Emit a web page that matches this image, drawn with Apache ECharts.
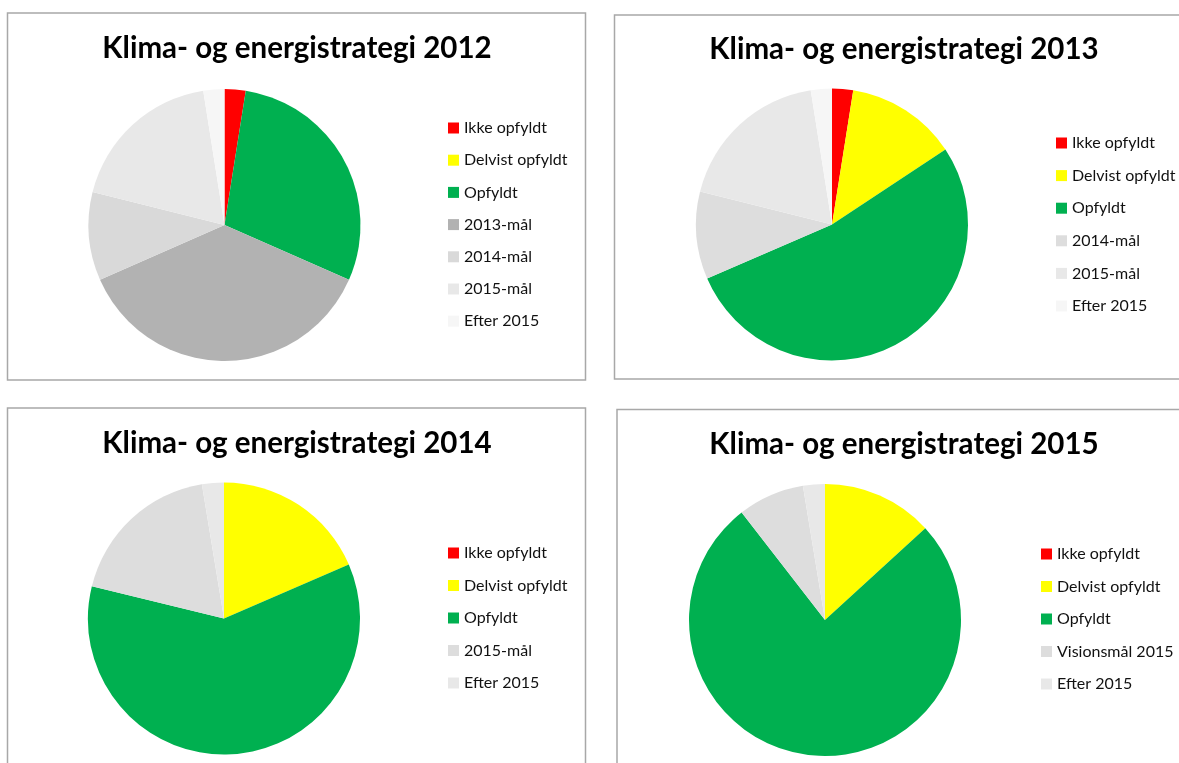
<!DOCTYPE html>
<html>
<head>
<meta charset="utf-8">
<script src="https://cdn.jsdelivr.net/npm/echarts@6/dist/echarts.min.js"></script>
<style>
  html, body { margin: 0; padding: 0; background: #fff; }
  #main { width: 1179px; height: 763px; }
</style>
</head>
<body>
<div id="main"></div>
<script>
// slices, clockwise from 12 o'clock (percent)
var titles = ['Klima- og energistrategi 2012', 'Klima- og energistrategi 2013',
              'Klima- og energistrategi 2014', 'Klima- og energistrategi 2015'];

var names2012 = ['Ikke opfyldt', 'Delvist opfyldt', 'Opfyldt', '2013-mål', '2014-mål', '2015-mål', 'Efter 2015'];
var values2012 = [2.5, 0, 29.1, 36.8, 10.5, 18.6, 2.5];
var colors2012 = ['#FF0000', '#FFFF00', '#00B050', '#B2B2B2', '#D9D9D9', '#E8E8E8', '#F6F6F6'];

var names2013 = ['Ikke opfyldt', 'Delvist opfyldt', 'Opfyldt', '2014-mål', '2015-mål', 'Efter 2015'];
var values2013 = [2.5, 13.2, 52.8, 10.4, 18.6, 2.5];
var colors2013 = ['#FF0000', '#FFFF00', '#00B050', '#DDDDDD', '#E8E8E8', '#F6F6F6'];

var names2014 = ['Ikke opfyldt', 'Delvist opfyldt', 'Opfyldt', '2015-mål', 'Efter 2015'];
var values2014 = [0, 18.5, 60.3, 18.6, 2.6];
var colors2014 = ['#FF0000', '#FFFF00', '#00B050', '#DDDDDD', '#E8E8E8'];

var names2015 = ['Ikke opfyldt', 'Delvist opfyldt', 'Opfyldt', 'Visionsmål 2015', 'Efter 2015'];
var values2015 = [0, 13.2, 76.3, 7.9, 2.6];
var colors2015 = ['#FF0000', '#FFFF00', '#00B050', '#DDDDDD', '#E8E8E8'];

var font = 'Lato, "Open Sans", sans-serif';

// layout of the four panels
var panels = [
  { names: names2012, values: values2012, colors: colors2012,
    box: [7.5, 13, 578, 367], titleX: 297, titleY: 48, center: [224.5, 225],
    legendX: 448, legendY: 120, gap: 16.2 },
  { names: names2013, values: values2013, colors: colors2013,
    box: [614.5, 15, 600, 364], titleX: 904, titleY: 49.5, center: [832, 224.5],
    legendX: 1056, legendY: 135, gap: 16.6 },
  { names: names2014, values: values2014, colors: colors2014,
    box: [7.5, 408, 578, 400], titleX: 297, titleY: 443, center: [224, 618.5],
    legendX: 448, legendY: 545, gap: 16.5 },
  { names: names2015, values: values2015, colors: colors2015,
    box: [617, 409.5, 600, 400], titleX: 904, titleY: 444, center: [825, 620],
    legendX: 1041, legendY: 546, gap: 16.5 }
];

var series = [], legends = [], graphics = [];

panels.forEach(function (p, i) {
  graphics.push({
    type: 'rect', silent: true,
    shape: { x: p.box[0], y: p.box[1], width: p.box[2], height: p.box[3] },
    style: { fill: 'none', stroke: '#A8A8A8', lineWidth: 1.5 }
  });
  graphics.push({
    type: 'text', silent: true, x: p.titleX, y: p.titleY,
    style: {
      text: titles[i], fill: '#000', font: 'bold 29.5px ' + font,
      textAlign: 'center', textVerticalAlign: 'middle'
    }
  });

  series.push({
    type: 'pie',
    center: p.center,
    radius: 136,
    startAngle: 90,
    clockwise: true,
    animation: false,
    label: { show: false },
    labelLine: { show: false },
    emphasis: { disabled: true },
    itemStyle: { borderWidth: 0 },
    data: p.names.map(function (n, k) {
      return { name: n, value: p.values[k], itemStyle: { color: p.colors[k] } };
    })
  });

  legends.push({
    orient: 'vertical',
    left: p.legendX,
    top: p.legendY,
    padding: 0,
    itemGap: p.gap,
    itemWidth: 11,
    itemHeight: 11,
    icon: 'rect',
    selectedMode: false,
    textStyle: { fontFamily: font, fontSize: 16, color: '#111' },
    data: p.names.map(function (n, k) {
      return { name: n, itemStyle: { color: p.colors[k] } };
    })
  });
});

var myChart = echarts.init(document.getElementById('main'));
var option = {
  backgroundColor: '#fff',
  animation: false,
  legend: legends,
  series: series,
  graphic: graphics
};
myChart.setOption(option);
</script>
</body>
</html>
